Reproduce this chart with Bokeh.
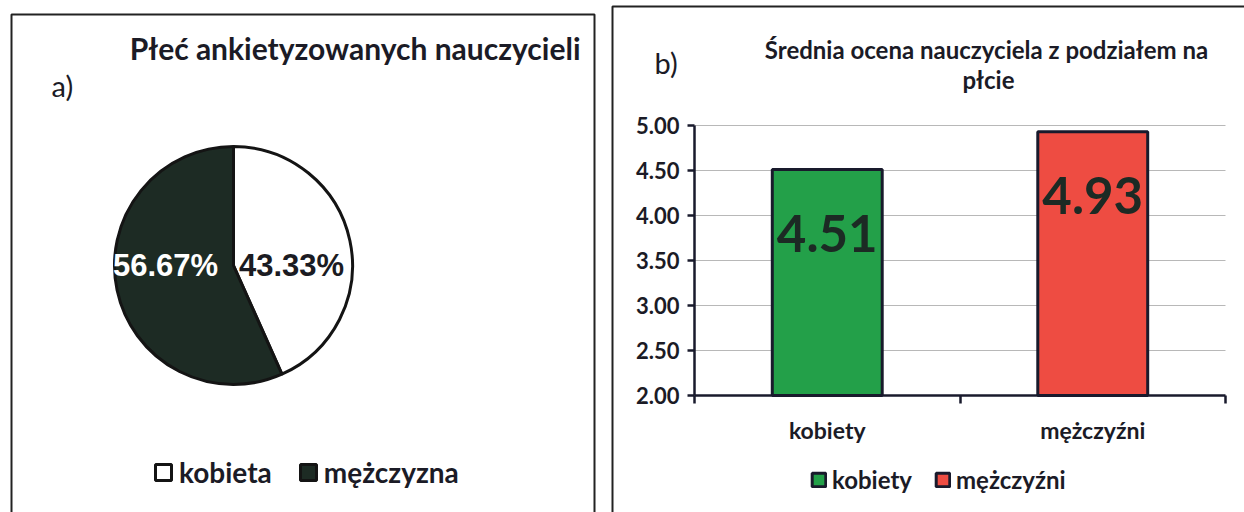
import math
from bokeh.plotting import figure
from bokeh.models import (Range1d, LinearAxis, FixedTicker, Legend, LegendItem,
                          ColumnDataSource, PrintfTickFormatter, CustomJSTickFormatter)
from bokeh.layouts import row
from bokeh.embed import file_html
from bokeh.resources import INLINE
from bokeh.core.properties import value

# ---------------- data ----------------
pie_labels = ["kobieta", "mężczyzna"]
pie_shares = [43.33, 56.67]
pie_colors = ["#ffffff", "#1d2b24"]
pie_text_colors = ["#1b1b22", "#ffffff"]

bar_categories = ["kobiety", "mężczyźni"]
bar_values = [4.51, 4.93]
bar_colors = ["#23a049", "#ee4c42"]
y_ticks = [2.0, 2.5, 3.0, 3.5, 4.0, 4.5, 5.0]

title_a = "Płeć ankietyzowanych nauczycieli"
title_b = ["Średnia ocena nauczyciela z podziałem na", "płcie"]

# ---------------- styles ----------------
FONT = "Lato"
CAL = value(FONT)
ARI = value("Liberation Sans")
INK = "#1b1b26"
H = 512
WA = 604
WB = 640

# ================= panel a) : pie =================
pa = figure(width=WA, height=H, x_range=Range1d(0, WA), y_range=Range1d(0, H),
            x_axis_type=None, y_axis_type=None, output_backend="svg",
            toolbar_location=None, min_border=0, outline_line_color=None)
pa.grid.visible = False

def ax(px):  # page px -> panel a x
    return px

def ay(py):  # page px -> panel a y
    return H - py

# panel frame
pa.line(x=[ax(11), ax(11), ax(594), ax(594)], y=[ay(530), ay(14), ay(14), ay(530)],
        line_color="#222222", line_width=2)

pa.text(x=[ax(580)], y=[ay(47)], text=[title_a], text_font=CAL, text_font_style="bold",
        text_font_size="30px", text_align="right", text_baseline="middle", text_color=INK)
pa.text(x=[ax(51)], y=[ay(85)], text=["a)"], text_font=CAL, text_font_size="29px",
        text_align="left", text_baseline="middle", text_color=INK)

cx, cy, R = ax(233), ay(265), 119
acc = 0.0
wedges = []
for lab, share, col in zip(pie_labels, pie_shares, pie_colors):
    a0 = math.radians(90 - acc * 3.6)
    acc += share
    a1 = math.radians(90 - acc * 3.6)
    r = pa.wedge(x=cx, y=cy, radius=R, start_angle=a0, end_angle=a1, direction="clock",
                 fill_color=col, line_color="#141414", line_width=3)
    wedges.append(r)

label_dx = [58, -68]
pa.text(x=[cx + d for d in label_dx], y=[cy, cy],
        text=[f"{s:.2f}%" for s in pie_shares], text_font=ARI, text_font_style="bold",
        text_font_size="31px", text_align="center", text_baseline="middle",
        text_color=pie_text_colors)

leg_a = Legend(items=[LegendItem(label=l, renderers=[r]) for l, r in zip(pie_labels, wedges)],
               orientation="horizontal", location=(153, 23),
               glyph_width=20, glyph_height=20, label_standoff=6, spacing=26,
               padding=0, margin=0, border_line_alpha=0, background_fill_alpha=0,
               label_text_font=FONT, label_text_font_style="bold", label_text_font_size="28px",
               label_text_color=INK, label_text_baseline="middle")
pa.add_layout(leg_a)

# ================= panel b) : bars =================
XU, YU = 265.5, 90.0       # px per unit
X0P, Y2P = 694, 395        # page px of x=0 and y=2
BL = WA

def bx(px):
    return (px - X0P) / XU

def by(py):
    return y_ticks[0] + (Y2P - py) / YU

pb = figure(width=WB, height=H, x_range=Range1d(bx(BL), bx(BL + WB)),
            y_range=Range1d(by(H), by(0)),
            x_axis_type=None, y_axis_type=None, output_backend="svg",
            toolbar_location=None, min_border=0, outline_line_color=None)
pb.grid.visible = False

# panel frame
pb.line(x=[bx(612), bx(612), bx(1300)], y=[by(530), by(6), by(6)],
        line_color="#222222", line_width=2)

pb.text(x=[bx(654)], y=[by(62)], text=["b)"], text_font=CAL, text_font_size="29px",
        text_align="left", text_baseline="middle", text_color=INK)
pb.text(x=[bx(986), bx(988)], y=[by(49), by(79)], text=title_b, text_font=CAL,
        text_font_style="bold", text_font_size="24px", text_align="center",
        text_baseline="middle", text_color=INK)

n = len(bar_categories)
xs = [i + 0.5 for i in range(n)]

# gridlines
pb.segment(x0=0, x1=n, y0=y_ticks[1:], y1=y_ticks[1:], line_color="#b8b8b8", line_width=1)

src = ColumnDataSource(dict(x=xs, top=bar_values, color=bar_colors, cat=bar_categories))
bars = pb.vbar(x="x", top="top", bottom=y_ticks[0], width=0.414, fill_color="color",
               line_color="#191a2c", line_width=3, source=src)

pb.text(x=xs, y=bar_values, text=[f"{v:.2f}" for v in bar_values], y_offset=64,
        text_font=CAL, text_font_style="bold", text_font_size="51px",
        text_align="center", text_baseline="middle", text_color="#1c2a24")

DARK = "#191a2c"
yax = LinearAxis(fixed_location=0, ticker=FixedTicker(ticks=y_ticks),
                 formatter=PrintfTickFormatter(format="%.2f"), bounds=(y_ticks[0], y_ticks[-1]),
                 axis_line_color=DARK, axis_line_width=2.5,
                 major_tick_line_color=DARK, major_tick_line_width=2.5,
                 minor_tick_line_color=None,
                 major_tick_out=7, major_tick_in=0, major_label_standoff=8,
                 major_label_text_font=FONT, major_label_text_font_style="bold",
                 major_label_text_font_size="22px", major_label_text_color=INK)
pb.add_layout(yax, "left")

# category axis: labels at bar centres, boundary ticks as minor ticks
xax = LinearAxis(fixed_location=y_ticks[0],
                 ticker=FixedTicker(ticks=xs, minor_ticks=list(range(n + 1))),
                 bounds=(0, n),
                 formatter=CustomJSTickFormatter(args=dict(labels=bar_categories),
                                                 code="return labels[Math.floor(tick)]"),
                 axis_line_color=DARK, axis_line_width=2.5,
                 major_tick_line_color=None, major_tick_out=0, major_tick_in=0,
                 minor_tick_line_color=DARK, minor_tick_line_width=2.5,
                 minor_tick_out=8, minor_tick_in=0,
                 major_label_standoff=12,
                 major_label_text_font=FONT, major_label_text_font_style="bold",
                 major_label_text_font_size="23px", major_label_text_color=INK)
pb.add_layout(xax, "below")

leg_b = Legend(items=[LegendItem(label=c, renderers=[bars], index=i)
                      for i, c in enumerate(bar_categories)],
               orientation="horizontal", location=(206, 18),
               glyph_width=17, glyph_height=17, label_standoff=5, spacing=22,
               padding=0, margin=0, border_line_alpha=0, background_fill_alpha=0,
               label_text_font=FONT, label_text_font_style="bold", label_text_font_size="24px",
               label_text_color=INK, label_text_baseline="middle")
pb.add_layout(leg_b)

layout = row(pa, pb, spacing=0)
open("out.html", "w").write(file_html(layout, INLINE))
